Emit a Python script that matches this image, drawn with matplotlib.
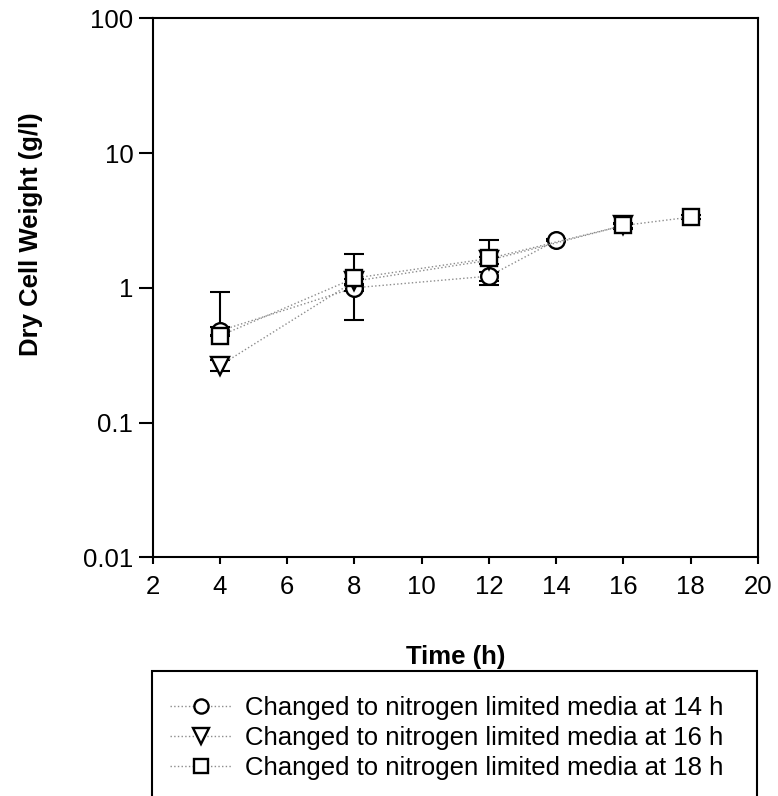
import matplotlib
matplotlib.use("Agg")
from matplotlib import pyplot as plt
from matplotlib.patches import Rectangle
from matplotlib.ticker import FixedLocator, FixedFormatter, NullLocator
import numpy as np

plt.rcParams["font.family"] = ["Liberation Sans", "DejaVu Sans"]

# Changed to nitrogen limited media at 14 h
time_14 = [4, 8, 12, 14]
dcw_14 = [0.48, 1.0, 1.22, 2.25]
sd_14 = [0.03, 0.05, 0.1, 0.04]

# Changed to nitrogen limited media at 16 h
time_16 = [4, 8, 12, 16]
dcw_16 = [0.265, 1.12, 1.6, 2.9]
sd_16 = [0.025, 0.05, 0.1, 0.1]

# Changed to nitrogen limited media at 18 h
time_18 = [4, 8, 12, 16, 18]
dcw_18 = [0.44, 1.18, 1.65, 2.9, 3.35]
sd_18 = [0.49, 0.6, 0.6, 0.15, 0.1]

labels = ["Changed to nitrogen limited media at 14 h",
          "Changed to nitrogen limited media at 16 h",
          "Changed to nitrogen limited media at 18 h"]
markers = ["o", "v", "s"]

yticks = [0.01, 0.1, 1, 10, 100]
ytick_labels = ["0.01", "0.1", "1", "10", "100"]
xticks = [2, 4, 6, 8, 10, 12, 14, 16, 18, 20]

FS = 18.5

fig = plt.figure(figsize=(7.78, 7.96), dpi=100)
ax = fig.add_axes([152.7 / 778, 1 - 557.3 / 796, (758 - 152.7) / 778, (557.3 - 18.3) / 796])

handles = []
for t, y, sd, m, lab in zip([time_14, time_16, time_18], [dcw_14, dcw_16, dcw_18],
                            [sd_14, sd_16, sd_18], markers, labels):
    y = np.array(y)
    sd = np.array(sd)
    # lower bar is dropped when it would go below zero (log axis)
    lower = np.where(y - sd > 0, sd, 0)
    ax.errorbar(t, y, yerr=[lower, sd], fmt="none", ecolor="black", elinewidth=1.5,
                capsize=7, capthick=1.5, zorder=2)
    h, = ax.plot(t, y, linestyle=":", color="#8c8c8c", linewidth=1.0,
                 marker=m, markersize=12 if m != "v" else 13, markerfacecolor="white",
                 markeredgecolor="black", markeredgewidth=1.7, label=lab, zorder=3)
    handles.append(h)

ax.set_yscale("log")
ax.set_xlim(2, 20)
ax.set_ylim(0.01, 100)
ax.yaxis.set_major_locator(FixedLocator(yticks))
ax.yaxis.set_major_formatter(FixedFormatter(ytick_labels))
ax.yaxis.set_minor_locator(NullLocator())
ax.set_xticks(xticks)
ax.set_xticklabels([str(v) for v in xticks])

for s in ax.spines.values():
    s.set_linewidth(1.5)
ax.tick_params(axis="both", direction="out", width=1.5, labelsize=FS, colors="black")
ax.tick_params(axis="y", length=10, pad=4)
ax.tick_params(axis="x", length=5, pad=8)

ax.set_xlabel("Time (h)", fontsize=FS, fontweight="bold")
ax.set_ylabel("Dry Cell Weight (g/l)", fontsize=FS, fontweight="bold")
ax.xaxis.set_label_coords(0.5, -0.163)
ax.yaxis.set_label_coords(-0.181, 0.6)

# legend box runs off the bottom of the figure
fig.patches.append(Rectangle((151.7 / 778, -0.05), (757 - 151.7) / 778, 0.05 + 1 - 671 / 796,
                             transform=fig.transFigure, fill=False, edgecolor="black",
                             linewidth=1.5, clip_on=False))
fig.legend(handles=handles, loc="upper left", bbox_to_anchor=(170 / 778, 1 - 696 / 796),
           frameon=False, fontsize=FS, handlelength=2.4, handletextpad=0.5,
           labelspacing=0.24, borderpad=0, borderaxespad=0, markerscale=0.85)

fig.savefig("out.png", dpi=100)
